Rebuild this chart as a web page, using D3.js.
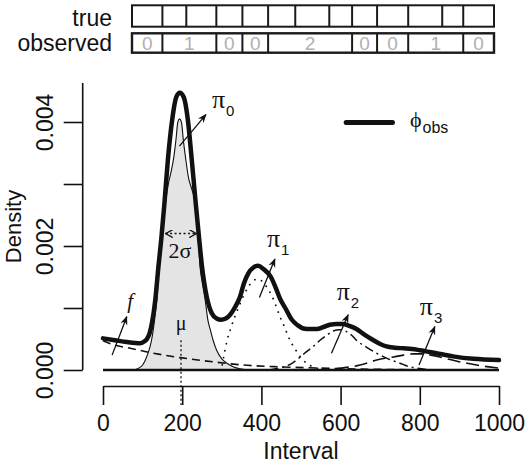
<!DOCTYPE html>
<html>
<head>
<meta charset="utf-8">
<script src="https://cdn.jsdelivr.net/npm/d3@7"></script>
<style>
  body { margin: 0; background: #fff; }
  svg { display: block; }
</style>
</head>
<body>
<div id="chart"></div>
<script>
// ---- data (interval, density) ----
var phiObs = [[0,0.00051],[30,0.00048],[60,0.00045],[94,0.00043],[104,0.00046],[111,0.0005],[118,0.0006],
  [124,0.00077],[132,0.00113],[140,0.00167],[147,0.0021],[155,0.00268],[164,0.0034],[175,0.00405],[185,0.0044],
  [194,0.00447],[204,0.0044],[214,0.00405],[224,0.0034],[234,0.0027],[243,0.0021],[250,0.00167],[262,0.00118],
  [275,0.00091],[287,0.00083],[298,0.00081],[310,0.00083],[321,0.00089],[334,0.00102],[346,0.00118],[356,0.0014],
  [367,0.00156],[379,0.00165],[392,0.00168],[405,0.00163],[424,0.0015],[436,0.00133],[447,0.00115],[462,0.00098],
  [477,0.00081],[492,0.00072],[506,0.00067],[523,0.00066],[540,0.00066],[556,0.00069],[573,0.00073],[590,0.00074],
  [605,0.00074],[622,0.00071],[640,0.00066],[660,0.00057],[683,0.00048],[700,0.00042],[716,0.00038],[737,0.00036],
  [758,0.00035],[780,0.00034],[800,0.00032],[842,0.00027],[884,0.00022],[935,0.00018],[1000,0.00016]];

var piZero = [[80,0],[90,0.00003],[100,0.00008],[107,0.00016],[113,0.00026],[119,0.00038],[124,0.00053],
  [128,0.0007],[132,0.0009],[136,0.00113],[141,0.0016],[147,0.002],[153,0.0024],[158,0.0027],[165,0.003],
  [172,0.0032],[178,0.0034],[184,0.0037],[189,0.004],[193,0.00405],[198,0.004],[203,0.0037],[209,0.0034],
  [216,0.0031],[225,0.0029],[233,0.0027],[239,0.0023],[245,0.00167],[251,0.0014],[258,0.00113],[265,0.0008],
  [271,0.00065],[279,0.00046],[287,0.00032],[300,0.00018],[313,0.00011],[330,0.00005],[346,0.00002],[365,0]];

var fBack = [[0,0.00047],[25,0.00041],[69,0.00035],[120,0.00028],[195,0.0002],[280,0.00013],[355,0.00008],
  [450,0.00005],[550,0.00003],[700,0.00001],[850,0],[1000,0]];

var piOne = [[290,0],[300,0.00006],[306,0.00025],[313,0.00047],[323,0.00068],[334,0.00088],[345,0.00105],
  [355,0.0012],[366,0.00133],[376,0.00142],[387,0.00146],[397,0.00145],[411,0.00136],[426,0.0012],[437,0.00103],
  [447,0.00086],[458,0.0007],[468,0.00054],[478,0.00041],[489,0.0003],[501,0.00019],[514,0.00011],[527,0.00006],
  [540,0.00003],[555,0]];

var piTwo = [[420,0],[450,0.00004],[475,0.0001],[498,0.00021],[515,0.0003],[531,0.00038],[548,0.00048],
  [565,0.00056],[581,0.00063],[598,0.00065],[615,0.00062],[628,0.00056],[640,0.00048],[665,0.00037],
  [691,0.00027],[720,0.00018],[750,0.00011],[770,0.00006],[792,0.00003],[830,0]];

var piThree = [[540,0],[600,0.00003],[649,0.00008],[670,0.00012],[691,0.00016],[712,0.00019],[733,0.00021],
  [758,0.00024],[783,0.00026],[805,0.00026],[828,0.00024],[851,0.00021],[876,0.00017],[901,0.00013],
  [927,0.0001],[952,0.00007],[975,0.00005],[1000,0.00003]];

var mu = 197, sigma = 39;

var xTicks = [0, 200, 400, 600, 800, 1000];
var yTicks = [0, 0.001, 0.002, 0.003, 0.004];
var yLabelled = [0, 0.002, 0.004];

// interval strips at the top (0..1000 along the strip)
var trueBreaks = [0, 84, 150, 233, 305, 376, 451, 545, 608, 677, 763, 857, 915, 1000];
var obsBreaks = [0, 84, 233, 305, 376, 608, 677, 763, 915, 1000];
var obsCounts = [0, 1, 0, 0, 2, 0, 0, 1, 0];

// ---- layout ----
var width = 531, height = 468;
var x = d3.scaleLinear().domain([0, 1000]).range([103, 499]);
var y = d3.scaleLinear().domain([0, 0.004]).range([370, 122]);
var sx = d3.scaleLinear().domain([0, 1000]).range([132, 494]);
var yTop = 0.00463;          // top end of the y axis line
var yAxisX = 82.7, xAxisY = 386;
var sans = "Liberation Sans, Arial, sans-serif";
var serif = "Liberation Serif, DejaVu Serif, serif";

var svg = d3.select("#chart").append("svg")
  .attr("width", width).attr("height", height);

var defs = svg.append("defs");
defs.append("marker").attr("id", "head")
  .attr("viewBox", "0 0 10 10").attr("refX", 9).attr("refY", 5)
  .attr("markerWidth", 9).attr("markerHeight", 9)
  .attr("markerUnits", "userSpaceOnUse").attr("orient", "auto")
  .append("path").attr("d", "M0,1 L10,5 L0,9 L3,5 z").attr("fill", "#111");
defs.append("marker").attr("id", "vhead")
  .attr("viewBox", "0 0 10 10").attr("refX", 9).attr("refY", 5)
  .attr("markerWidth", 8).attr("markerHeight", 8)
  .attr("markerUnits", "userSpaceOnUse").attr("orient", "auto-start-reverse")
  .append("path").attr("d", "M0,0 L9,5 L0,10").attr("fill", "none")
  .attr("stroke", "#111").attr("stroke-width", 1.6);

// ---- strips ----
svg.append("text").attr("x", 112).attr("y", 26).attr("text-anchor", "end")
  .style("font-family", sans).style("font-size", "23px").attr("fill", "#111").text("true");
svg.append("text").attr("x", 112).attr("y", 51).attr("text-anchor", "end")
  .style("font-family", sans).style("font-size", "23px").attr("fill", "#111").text("observed");

svg.append("rect").attr("x", sx(0)).attr("y", 5.3).attr("width", sx(1000) - sx(0)).attr("height", 21.4)
  .attr("fill", "none").attr("stroke", "#1a1a1a").attr("stroke-width", 2);
svg.selectAll(".tdiv").data(trueBreaks.slice(1, -1)).enter().append("line")
  .attr("x1", d => sx(d)).attr("x2", d => sx(d)).attr("y1", 5.3).attr("y2", 26.7)
  .attr("stroke", "#1a1a1a").attr("stroke-width", 2);

svg.append("rect").attr("x", sx(0)).attr("y", 33.3).attr("width", sx(1000) - sx(0)).attr("height", 19.4)
  .attr("fill", "none").attr("stroke", "#1a1a1a").attr("stroke-width", 2.4);
svg.selectAll(".odiv").data(obsBreaks.slice(1, -1)).enter().append("line")
  .attr("x1", d => sx(d)).attr("x2", d => sx(d)).attr("y1", 33.3).attr("y2", 52.7)
  .attr("stroke", "#1a1a1a").attr("stroke-width", 2);
svg.selectAll(".ocount").data(obsCounts).enter().append("text")
  .attr("x", (d, i) => (sx(obsBreaks[i]) + sx(obsBreaks[i + 1])) / 2)
  .attr("y", 49.5).attr("text-anchor", "middle")
  .style("font-family", sans).style("font-size", "19px").attr("fill", "#b0b0b0")
  .text(d => d);

// ---- curves ----
var line = d3.line().x(d => x(d[0])).y(d => y(d[1])).curve(d3.curveMonotoneX);
var area = d3.area().x(d => x(d[0])).y0(y(0)).y1(d => y(d[1])).curve(d3.curveMonotoneX);

svg.append("path").attr("d", area(piZero)).attr("fill", "#e4e4e4");
svg.append("path").attr("d", line(piZero)).attr("fill", "none").attr("stroke", "#111").attr("stroke-width", 1.1);
svg.append("path").attr("d", line(fBack)).attr("fill", "none").attr("stroke", "#111")
  .attr("stroke-width", 1.6).attr("stroke-dasharray", "8,5");
svg.append("path").attr("d", line(piOne)).attr("fill", "none").attr("stroke", "#111")
  .attr("stroke-width", 1.8).attr("stroke-linecap", "round").attr("stroke-dasharray", "0.1,7");
svg.append("path").attr("d", line(piTwo)).attr("fill", "none").attr("stroke", "#111")
  .attr("stroke-width", 1.5).attr("stroke-dasharray", "9,4,2,4");
svg.append("path").attr("d", line(piThree)).attr("fill", "none").attr("stroke", "#111")
  .attr("stroke-width", 1.6).attr("stroke-dasharray", "13,6");

// zero line
svg.append("line").attr("x1", x(0)).attr("x2", x(1000)).attr("y1", y(0)).attr("y2", y(0))
  .attr("stroke", "#111").attr("stroke-width", 2.5);

svg.append("path").attr("d", line(phiObs)).attr("fill", "none").attr("stroke", "#111")
  .attr("stroke-width", 4.5).attr("stroke-linejoin", "round").attr("stroke-linecap", "round");

// ---- axes ----
var xAxis = svg.append("g").attr("transform", "translate(0," + xAxisY + ")")
  .call(d3.axisBottom(x).tickValues(xTicks).tickSize(19).tickSizeOuter(0).tickPadding(10)
    .tickFormat(d3.format("d")));
xAxis.selectAll("text").style("font-family", sans).style("font-size", "23px").attr("fill", "#111");
xAxis.selectAll("line, path").attr("stroke", "#111").attr("stroke-width", 1.6);

var yAxis = svg.append("g").attr("transform", "translate(" + yAxisX + ",0)")
  .call(d3.axisLeft(y).tickValues(yTicks).tickSize(19).tickSizeOuter(0)
    .tickFormat(d => yLabelled.indexOf(d) >= 0 ? d3.format(".3f")(d) : ""));
yAxis.select(".domain").remove();
yAxis.append("line").attr("x1", 0).attr("x2", 0).attr("y1", y(0)).attr("y2", y(yTop));
yAxis.selectAll("line").attr("stroke", "#111").attr("stroke-width", 1.6);
yAxis.selectAll("text")
  .attr("transform", "rotate(-90)").attr("x", 0).attr("y", -29.7).attr("dy", 0)
  .attr("text-anchor", "middle")
  .style("font-family", sans).style("font-size", "23px").attr("fill", "#111");

svg.append("text").attr("transform", "translate(20.5," + (y(0) + y(yTop)) / 2 + ") rotate(-90)")
  .attr("text-anchor", "middle").style("font-family", sans).style("font-size", "22px")
  .attr("fill", "#111").text("Density");
svg.append("text").attr("x", (x(0) + x(1000)) / 2).attr("y", 459).attr("text-anchor", "middle")
  .style("font-family", sans).style("font-size", "23px").attr("fill", "#111").text("Interval");

// ---- annotations ----
// arrows from each component to its label (interval, density)
var arrows = [
  [193, 0.00361, 260, 0.00412],
  [395, 0.00117, 434, 0.00179],
  [577, 0.00027, 619, 0.00089],
  [798, 0.00008, 838, 0.0007],
  [23, 0.00024, 60, 0.00086]
];
svg.selectAll(".arr").data(arrows).enter().append("line")
  .attr("x1", d => x(d[0])).attr("y1", d => y(d[1]))
  .attr("x2", d => x(d[2])).attr("y2", d => y(d[3]))
  .attr("stroke", "#111").attr("stroke-width", 1.3).attr("marker-end", "url(#head)");

var piLabels = [["0", 275, 0.00422], ["1", 414, 0.00199], ["2", 590, 0.00113], ["3", 800, 0.00089]];
piLabels.forEach(function(p) {
  var t = svg.append("text").attr("x", x(p[1])).attr("y", y(p[2])).attr("fill", "#111");
  t.append("tspan").style("font-family", serif).style("font-size", "26px").text("\u03c0");
  t.append("tspan").attr("dx", 1).attr("dy", 8).style("font-family", sans).style("font-size", "15px").text(p[0]);
});

svg.append("text").attr("x", x(61)).attr("y", y(0.001)).style("font-family", serif)
  .style("font-style", "italic").style("font-size", "21px").attr("fill", "#111").text("f");

// 2 sigma
svg.append("line").attr("x1", x(mu - sigma)).attr("x2", x(mu + sigma)).attr("y1", y(0.0022)).attr("y2", y(0.0022))
  .attr("stroke", "#111").attr("stroke-width", 1.5).attr("stroke-dasharray", "2,2.5")
  .attr("marker-start", "url(#vhead)").attr("marker-end", "url(#vhead)");
svg.append("text").attr("x", x(mu) - 1).attr("y", y(0.0018)).attr("text-anchor", "middle")
  .style("font-family", serif).style("font-size", "22px").attr("fill", "#111").text("2\u03c3");

// mu
svg.append("text").attr("x", x(mu)).attr("y", y(0.00064)).attr("text-anchor", "middle")
  .style("font-family", serif).style("font-size", "20px").attr("fill", "#111").text("\u03bc");
svg.append("line").attr("x1", x(mu)).attr("x2", x(mu)).attr("y1", y(0.00048)).attr("y2", xAxisY + 19)
  .attr("stroke", "#111").attr("stroke-width", 1.3).attr("stroke-dasharray", "2,2.5");

// legend
svg.append("line").attr("x1", x(614)).attr("x2", x(731)).attr("y1", y(0.00399)).attr("y2", y(0.00399))
  .attr("stroke", "#111").attr("stroke-width", 5).attr("stroke-linecap", "round");
var lg = svg.append("text").attr("x", x(775)).attr("y", y(0.00392)).attr("fill", "#111");
lg.append("tspan").style("font-family", serif).style("font-size", "22px").text("\u03d5");
lg.append("tspan").attr("dx", 1).attr("dy", 6).style("font-family", sans).style("font-size", "16px").text("obs");
</script>
</body>
</html>
